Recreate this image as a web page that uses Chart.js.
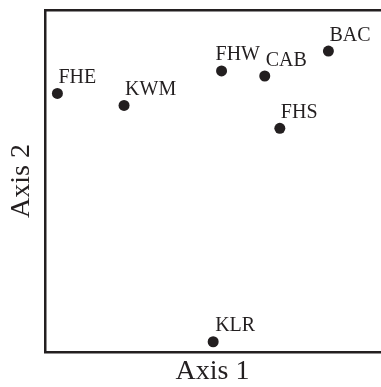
<!DOCTYPE html>
<html lang="en">
<head>
    <meta charset="UTF-8">
    <title>Axis 1 vs Axis 2</title>
    <script src="https://cdn.jsdelivr.net/npm/chart.js"></script>
    <style>
        body {
            margin: 0;
            padding: 0;
            background: white;
        }
        #wrap {
            width: 381px;
            height: 387px;
        }
    </style>
</head>
<body>
    <div id="wrap">
        <canvas id="ordination" width="381" height="387"></canvas>
    </div>

    <script>
        // site labels and their scores on the two axes
        const sites = ['FHE', 'KWM', 'FHW', 'CAB', 'BAC', 'FHS', 'KLR'];
        const axis1 = [0.37, 2.36, 5.27, 6.56, 8.46, 7.01, 5.02];
        const axis2 = [7.56, 7.21, 8.22, 8.07, 8.80, 6.54, 0.30];

        const ink = '#231f20';
        const serif = "'Liberation Serif', 'Times New Roman', serif";

        // label nudges (pixels) for the ones that don't sit at the default spot
        const labelShift = { FHW: -7, KLR: 1 };

        const pointLabels = {
            id: 'pointLabels',
            afterDatasetsDraw(chart) {
                const ctx = chart.ctx;
                const meta = chart.getDatasetMeta(0);
                ctx.save();
                ctx.fillStyle = ink;
                ctx.font = '20px ' + serif;
                ctx.textAlign = 'left';
                ctx.textBaseline = 'alphabetic';
                meta.data.forEach((pt, i) => {
                    const dx = labelShift[sites[i]] || 0;
                    ctx.fillText(sites[i], pt.x + 1 + dx, pt.y - 10.5);
                });
                ctx.restore();
            }
        };

        const ctx = document.getElementById('ordination').getContext('2d');
        new Chart(ctx, {
            type: 'scatter',
            data: {
                datasets: [{
                    data: sites.map((s, i) => ({ x: axis1[i], y: axis2[i] })),
                    backgroundColor: ink,
                    borderColor: ink,
                    pointRadius: 5.5,
                    borderWidth: 0
                }]
            },
            options: {
                responsive: false,
                animation: false,
                layout: { autoPadding: false, padding: { left: 0, right: 1, top: 0, bottom: 0 } },
                plugins: {
                    legend: { display: false },
                    tooltip: { enabled: false }
                },
                scales: {
                    x: {
                        min: 0, max: 10,
                        position: 'bottom',
                        ticks: { display: false },
                        grid: { display: false, drawTicks: false },
                        border: { display: true, color: ink, width: 2.5 },
                        title: {
                            display: true, text: 'Axis 1', color: ink,
                            font: { family: serif, size: 28 },
                            padding: { top: 0, bottom: -1 }
                        },
                        afterFit(scale) { scale.height = 35; }
                    },
                    x2: {
                        min: 0, max: 10,
                        position: 'top',
                        ticks: { display: false },
                        grid: { display: false, drawTicks: false },
                        border: { display: true, color: ink, width: 2.5 },
                        afterFit(scale) { scale.height = 10; }
                    },
                    y: {
                        min: 0, max: 10,
                        ticks: { display: false },
                        grid: { display: false, drawTicks: false },
                        border: { display: true, color: ink, width: 2.5 },
                        title: {
                            display: true, text: 'Axis 2', color: ink,
                            font: { family: serif, size: 28 },
                            padding: { top: 5, bottom: 0 }
                        },
                        afterFit(scale) { scale.width = 45; }
                    }
                }
            },
            plugins: [pointLabels]
        });
    </script>
</body>
</html>
